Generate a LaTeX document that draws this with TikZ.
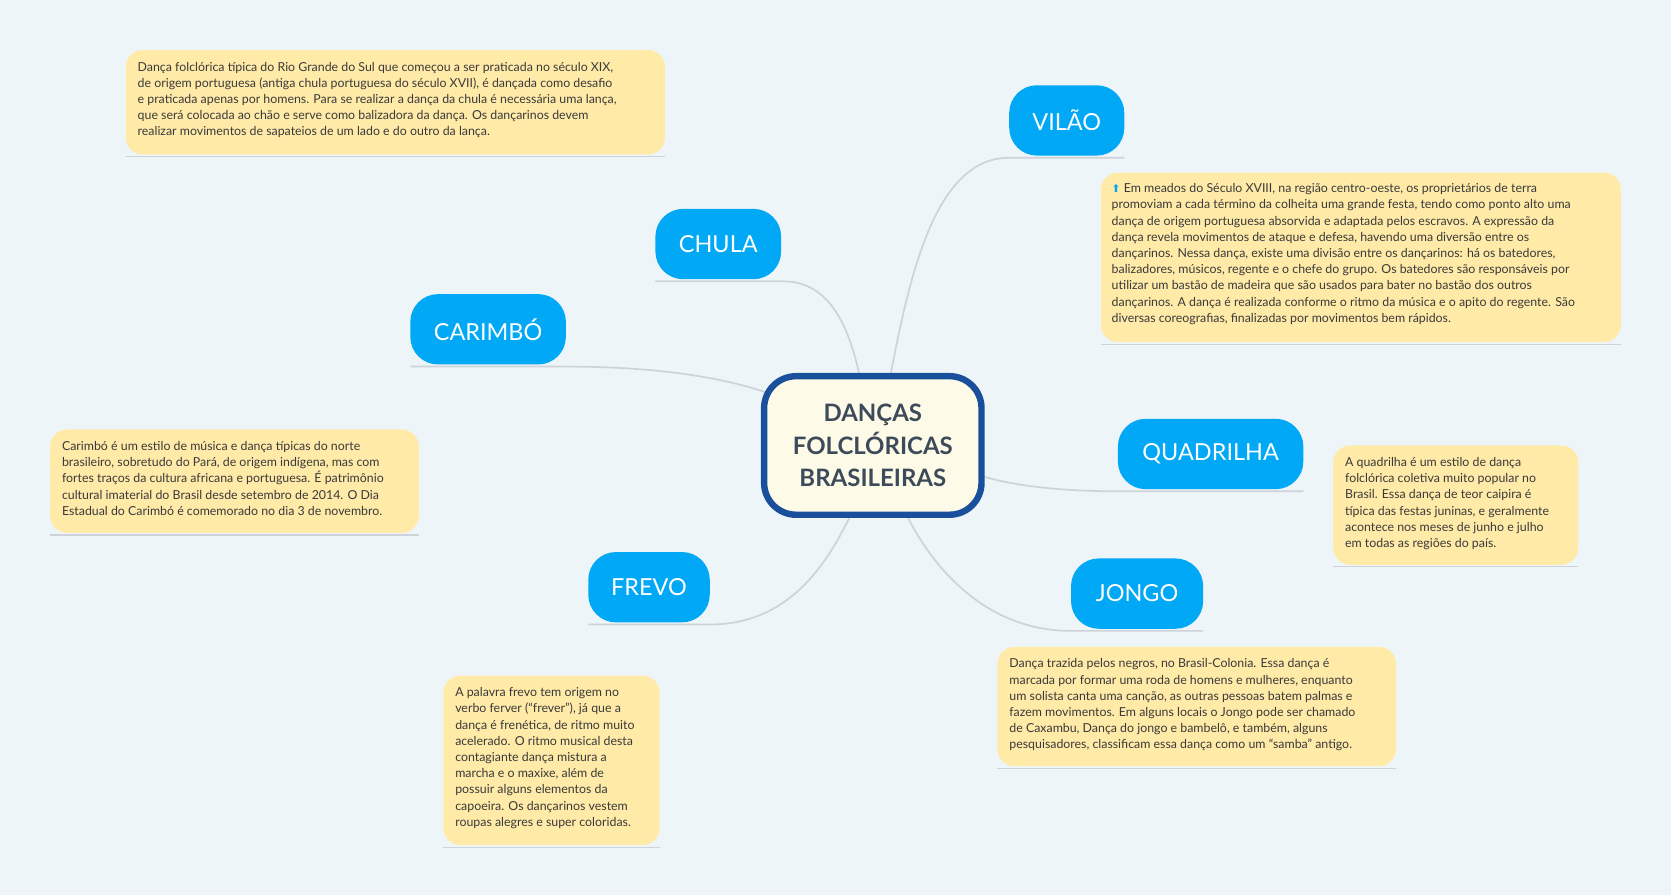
\documentclass[tikz,border=0pt]{standalone}
\usepackage{fontspec}
\setmainfont{Lato}
\newfontfamily\dvs{DejaVu Sans}
\definecolor{bg}{HTML}{EEF5F9}
\definecolor{topic}{HTML}{00A8F5}
\definecolor{note}{HTML}{FFEAA8}
\definecolor{cborder}{HTML}{1A4F9C}
\definecolor{cfill}{HTML}{FDFBE8}
\definecolor{ctext}{HTML}{3D4A5A}
\definecolor{line}{HTML}{CDD3D8}
\definecolor{ntext}{HTML}{3A3A3A}
\begin{document}
\begin{tikzpicture}[x=1pt,y=-1pt,
  topicbox/.style={fill=topic,rounded corners=26pt,text=white,font=\fontsize{22}{26}\selectfont,inner sep=0pt,anchor=center},
  notebox/.style={fill=note,rounded corners=16pt,inner sep=0pt,anchor=north west},
  notetext/.style={anchor=north west,align=left,text=ntext,font=\fontsize{11.6}{15.2}\selectfont,inner sep=0pt},
  conn/.style={draw=line,line width=1.6pt}]
\fill[bg] (0,0) rectangle (1568,840);
\useasboundingbox (0,0) rectangle (1568,840);
% connectors
\draw[conn] (615,264) -- (735,264) .. controls (775,264) and (795,300) .. (806,350);
\draw[conn] (1055,148) -- (947,148) .. controls (880,148) and (855,250) .. (836,350);
\draw[conn] (385,344) -- (531,344) .. controls (620,344) and (680,355) .. (718,368);
\draw[conn] (1223,461) -- (1049,461) .. controls (990,461) and (950,455) .. (922,447);
\draw[conn] (552,586) -- (666,586) .. controls (740,586) and (775,530) .. (797,486);
\draw[conn] (1129,592) -- (1005,592) .. controls (930,592) and (880,540) .. (852,486);
% center
\node[draw=cborder,line width=6pt,fill=cfill,rounded corners=30pt,minimum width=204pt,minimum height=130pt,inner sep=0pt,text=ctext,align=center,font=\bfseries\fontsize{22.5}{30.5}\selectfont] (c) at (819,418) {DANÇAS\\FOLCLÓRICAS\\BRASILEIRAS};
% topics
\node[topicbox,minimum width=108pt,minimum height=66pt] (vilao) at (1001,113) {VILÃO};
\node[topicbox,minimum width=118pt,minimum height=66pt] (chula) at (674,229) {CHULA};
\node[topicbox,minimum width=146pt,minimum height=66pt] (carimbo) at (458,309) {CARIMBÓ};
\node[topicbox,minimum width=174pt,minimum height=66pt] (quadrilha) at (1136,426) {QUADRILHA};
\node[topicbox,minimum width=114pt,minimum height=66pt] (frevo) at (609,551) {FREVO};
\node[topicbox,minimum width=124pt,minimum height=66pt] (jongo) at (1067,557) {JONGO};
% notes
\fill[note,rounded corners=16pt] (118,47) rectangle (624,145);
\draw[conn,line width=1pt] (118,147) -- (624,147);
\node[notetext] (tchula) at (129,58) {Dança folclórica típica do Rio Grande do Sul que começou a ser praticada no século XIX,\\de origem portuguesa (antiga chula portuguesa do século XVII), é dançada como desafio\\e praticada apenas por homens. Para se realizar a dança da chula é necessária uma lança,\\que será colocada ao chão e serve como balizadora da dança. Os dançarinos devem\\realizar movimentos de sapateios de um lado e do outro da lança.};
\fill[note,rounded corners=16pt] (1033,162) rectangle (1521,321);
\draw[conn,line width=1pt] (1033,323) -- (1521,323);
\node[notetext] (tvilao) at (1043,172) {{\dvs\fontsize{10}{12}\selectfont\textcolor{topic}{⬆}} Em meados do Século XVIII, na região centro-oeste, os proprietários de terra\\promoviam a cada término da colheita uma grande festa, tendo como ponto alto uma\\dança de origem portuguesa absorvida e adaptada pelos escravos. A expressão da\\dança revela movimentos de ataque e defesa, havendo uma diversão entre os\\dançarinos. Nessa dança, existe uma divisão entre os dançarinos: há os batedores,\\balizadores, músicos, regente e o chefe do grupo. Os batedores são responsáveis por\\utilizar um bastão de madeira que são usados para bater no bastão dos outros\\dançarinos. A dança é realizada conforme o ritmo da música e o apito do regente. São\\diversas coreografias, finalizadas por movimentos bem rápidos.};
\fill[note,rounded corners=16pt] (47,403) rectangle (393,500);
\draw[conn,line width=1pt] (47,502) -- (393,502);
\node[notetext] (tcarimbo) at (58,414) {Carimbó é um estilo de música e dança típicas do norte\\brasileiro, sobretudo do Pará, de origem indígena, mas com\\fortes traços da cultura africana e portuguesa. É patrimônio\\cultural imaterial do Brasil desde setembro de 2014. O Dia\\Estadual do Carimbó é comemorado no dia 3 de novembro.};
\fill[note,rounded corners=16pt] (1251,418) rectangle (1481,530);
\draw[conn,line width=1pt] (1251,532) -- (1481,532);
\node[notetext] (tquadrilha) at (1262,429) {A quadrilha é um estilo de dança\\folclórica coletiva muito popular no\\Brasil. Essa dança de teor caipira é\\típica das festas juninas, e geralmente\\acontece nos meses de junho e julho\\em todas as regiões do país.};
\fill[note,rounded corners=16pt] (936,607) rectangle (1310,719);
\draw[conn,line width=1pt] (936,721) -- (1310,721);
\node[notetext] (tjongo) at (947,618) {Dança trazida pelos negros, no Brasil-Colonia. Essa dança é\\marcada por formar uma roda de homens e mulheres, enquanto\\um solista canta uma canção, as outras pessoas batem palmas e\\fazem movimentos. Em alguns locais o Jongo pode ser chamado\\de Caxambu, Dança do jongo e bambelô, e também, alguns\\pesquisadores, classificam essa dança como um “samba” antigo.};
\fill[note,rounded corners=16pt] (416,634) rectangle (619,793);
\draw[conn,line width=1pt] (416,795) -- (619,795);
\node[notetext] (tfrevo) at (427,645) {A palavra frevo tem origem no\\verbo ferver (“frever”), já que a\\dança é frenética, de ritmo muito\\acelerado. O ritmo musical desta\\contagiante dança mistura a\\marcha e o maxixe, além de\\possuir alguns elementos da\\capoeira. Os dançarinos vestem\\roupas alegres e super coloridas.};
\end{tikzpicture}
\end{document}
